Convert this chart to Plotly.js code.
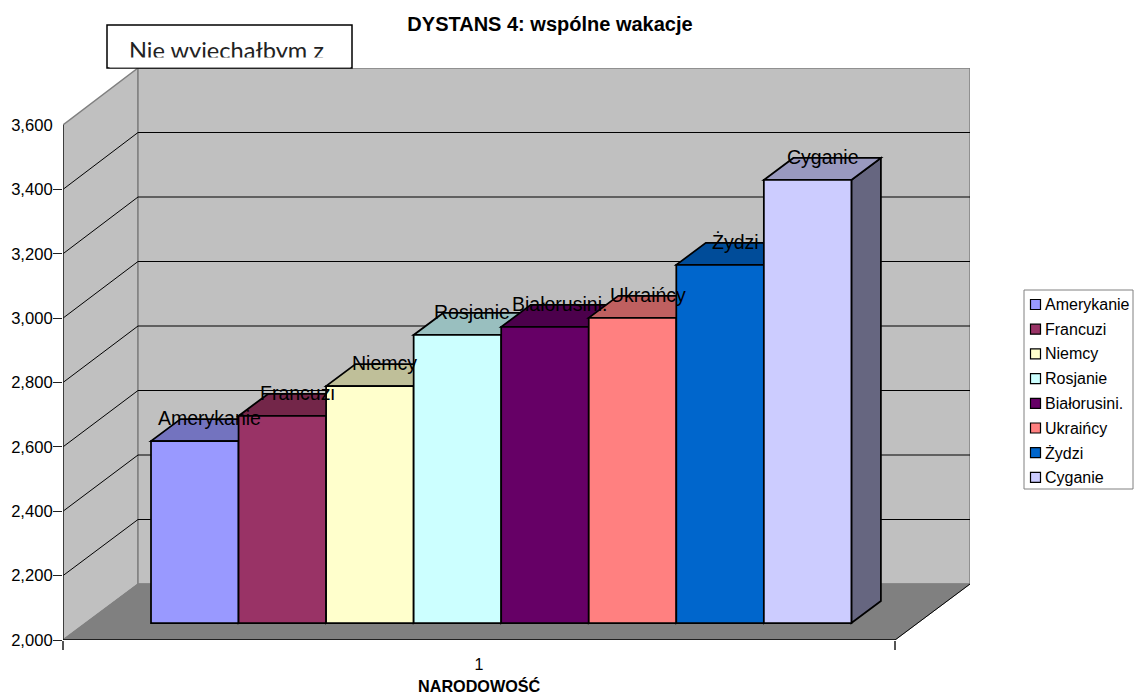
<!DOCTYPE html>
<html><head><meta charset="utf-8">
<script src="https://cdn.plot.ly/plotly-3.0.1.min.js"></script>
<style>html,body{margin:0;padding:0;background:#fff}</style></head>
<body><div id="chart" style="width:1134px;height:695px"></div>
<script>
const categories = ["Amerykanie","Francuzi","Niemcy","Rosjanie","Białorusini.","Ukraińcy","Żydzi","Cyganie"];
const values = [2566,2644,2737,2896,2921,2949,3114,3378];
const colors = ["#9999FF","#993366","#FFFFCC","#CCFFFF","#660066","#FF8080","#0066CC","#CCCCFF"];
const topColors = ["#7373BF","#732649","#BFBF99","#99BFBF","#4C004C","#BF6060","#004C99","#9999BF"];
const sideColor = "#666680";
const yTicks = [2000,2200,2400,2600,2800,3000,3200,3400,3600];
const yTickMarks = [2000,2200,2400,2600,2800,3000,3200,3400];
const chartTitle = "DYSTANS 4: wspólne wakacje";
const xAxisTitle = "NARODOWOŚĆ";
const boxText = "Nie wyjechałbym z";

// plot frame (pixels of the page)
const L=63,R=970,T=68,B=640;
const W=R-L,H=B-T;
const pxX=832;              // px per x unit
const pxY=515/1600;         // px per y unit on the front plane
const Y0=2000,YTOP=3600+57/pxY;
const X0=0.5,X1=1.5,XMAX=X0+W/pxX;
// oblique projection of the box
const wallDX=75/pxX;
const backY=v=>Y0+56/pxY+(v-Y0)*(516/515);
// bars
const barW=87.55/pxX;
const barX0=X0+(151-L)/pxX;
const barBase=Y0+17/pxY;
const barScale=0.3215/pxY;
const depthX=29.5/pxX, depthY=22/pxY;
const cx=i=>barX0+barW*(i+0.5);
const heights=values.map(v=>(v-Y0)*barScale);
const px=x=>(x-L)/W, py=y=>(B-y)/H;

const shapes=[];
const poly=(pts,fill,color,width)=>shapes.push({type:"path",layer:"below",xref:"x",yref:"y",
  path:"M"+pts.map(p=>p[0]+","+p[1]).join("L")+"Z",fillcolor:fill,line:{color:color,width:width}});
const seg=(a,b,color,width)=>shapes.push({type:"line",layer:"below",xref:"x",yref:"y",
  x0:a[0],y0:a[1],x1:b[0],y1:b[1],line:{color:color,width:width}});

// walls and floor
poly([[X0,Y0],[X0,3600],[X0+wallDX,backY(3600)],[X0+wallDX,backY(Y0)]],"#C0C0C0","#808080",1.5);
poly([[X0+wallDX,backY(Y0)],[X0+wallDX,backY(3600)],[X1+wallDX,backY(3600)],[X1+wallDX,backY(Y0)]],"#C0C0C0","#808080",1.5);
poly([[X0,Y0],[X1,Y0],[X1+wallDX,backY(Y0)],[X0+wallDX,backY(Y0)]],"#808080","#808080",1);
yTicks.slice(1,-1).forEach(v=>{
  seg([X0,v],[X0+wallDX,backY(v)],"#000",1);
  seg([X0+wallDX,backY(v)],[X1+wallDX,backY(v)],"#000",1);
});
seg([X0,Y0],[X0,3600],"#222",1.5);
seg([X0,Y0],[X1,Y0],"#000",1.5);
seg([X1,Y0],[X1+wallDX,backY(Y0)],"#000",1);

// top and side faces of the bars, left to right
values.forEach((v,i)=>{
  const l=cx(i)-barW/2,r=cx(i)+barW/2,top=barBase+heights[i];
  poly([[r,barBase],[r+depthX,barBase+depthY],[r+depthX,top+depthY],[r,top]],sideColor,"#000",1.75);
  poly([[l,top],[r,top],[r+depthX,top+depthY],[l+depthX,top+depthY]],topColors[i],"#000",1.75);
});

// front faces
const traces=values.map((v,i)=>({type:"bar",name:categories[i],x:[cx(i)],y:[heights[i]],base:[barBase],
  width:[barW],marker:{color:colors[i],line:{color:"#000",width:1.75}},showlegend:false,
  hovertemplate:categories[i]+": %{customdata}<extra></extra>",customdata:[v]}));

const annotations=[];
// labels above bars
categories.forEach((c,i)=>annotations.push({xref:"x",yref:"y",x:cx(i)+15/pxX,y:barBase+heights[i]+23/pxY,
  text:c,showarrow:false,xanchor:"center",yanchor:"middle",font:{family:"Liberation Sans, Arial",size:19.5,color:"#000"}}));
// x-axis title
annotations.push({xref:"x",yref:"paper",x:1,y:py(685.5),text:"<b>"+xAxisTitle+"</b>",showarrow:false,
  xanchor:"center",yanchor:"middle",font:{family:"Liberation Sans, Arial",size:16.2,color:"#000"}});

// text box
shapes.push({type:"rect",xref:"paper",yref:"paper",x0:px(107),x1:px(352),y0:py(68),y1:py(25),
  fillcolor:"#fff",line:{color:"#000",width:1.5},layer:"above"});
annotations.push({xref:"paper",yref:"paper",x:px(226),y:py(50),text:boxText,showarrow:false,
  xanchor:"center",yanchor:"middle",font:{family:"Lato, Arial",size:23.6,color:"#222"}});
annotations.push({xref:"paper",yref:"paper",x:px(229.5),y:py(62.5),text:"&nbsp;",showarrow:false,width:240,height:9,
  xanchor:"center",yanchor:"middle",bgcolor:"#fff",borderpad:0,font:{size:6}});

// legend
shapes.push({type:"rect",xref:"paper",yref:"paper",x0:px(1024),x1:px(1133),y0:py(489),y1:py(290),
  fillcolor:"#fff",line:{color:"#808080",width:1},layer:"above"});
categories.forEach((c,i)=>{
  const yc=304.5+24.7*i;
  shapes.push({type:"rect",xref:"paper",yref:"paper",x0:px(1030.5),x1:px(1040.5),y0:py(yc+5),y1:py(yc-5),
    fillcolor:colors[i],line:{color:"#000",width:1.2},layer:"above"});
  annotations.push({xref:"paper",yref:"paper",x:px(1042.5),y:py(yc),text:c,showarrow:false,
    xanchor:"left",yanchor:"middle",font:{family:"Liberation Sans, Arial",size:16,color:"#000"}});
});

const layout={
  width:1134,height:695,paper_bgcolor:"#fff",plot_bgcolor:"rgba(0,0,0,0)",showlegend:false,barmode:"overlay",
  margin:{l:L,r:1134-R,t:T,b:695-B,pad:0},
  font:{family:"Liberation Sans, Arial",size:16,color:"#000"},
  title:{text:"<b>"+chartTitle+"</b>",x:px(550),xanchor:"center",xref:"paper",y:1-24/695,yanchor:"middle",yref:"container",
    font:{family:"Liberation Sans, Arial",size:20,color:"#000"}},
  xaxis:{range:[X0,XMAX],tickmode:"array",tickvals:[1],ticktext:["1"],ticks:"outside",ticklen:10,tickcolor:"rgba(0,0,0,0)",
    showgrid:false,zeroline:false,showline:false,
    minor:{tickmode:"array",tickvals:[X0,X1],ticks:"outside",ticklen:9,tickwidth:1.5,tickcolor:"#555",showgrid:false},
    tickfont:{size:16}},
  yaxis:{range:[Y0,YTOP],tickmode:"array",tickvals:yTicks,ticks:"outside",ticklen:6,tickwidth:1,tickcolor:"rgba(0,0,0,0)",
    minor:{tickmode:"array",tickvals:yTickMarks,ticks:"outside",ticklen:9,tickwidth:1,tickcolor:"#222",showgrid:false},
    tickformat:",d",showgrid:false,zeroline:false,showline:false,tickfont:{size:16.6}},
  shapes,annotations
};
Plotly.newPlot("chart",traces,layout,{displayModeBar:false,responsive:false});
</script></body></html>
